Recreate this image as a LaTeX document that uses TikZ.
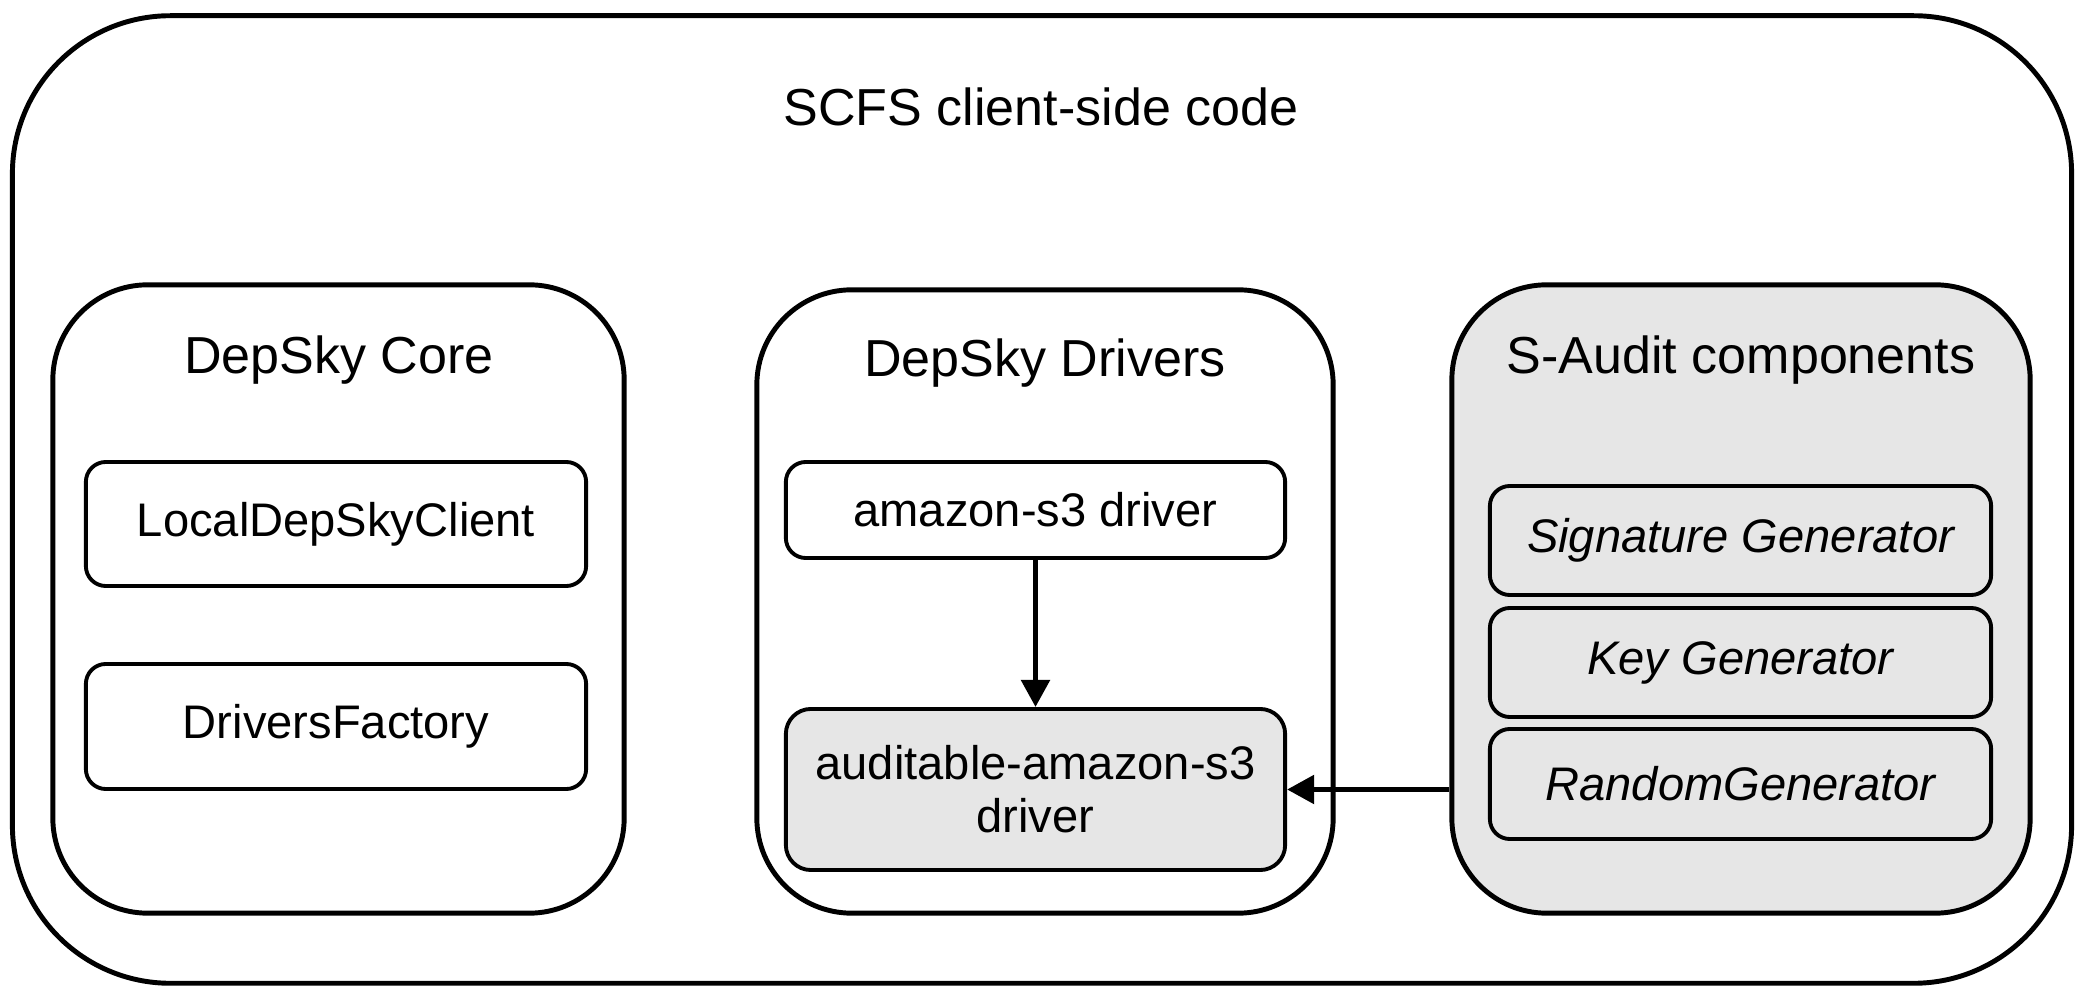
\documentclass[tikz,border=0pt]{standalone}
\usepackage{fontspec}
\setmainfont{Liberation Sans}
\usetikzlibrary{arrows.meta,positioning}
\definecolor{auditgray}{HTML}{E6E6E6}

\begin{document}
\begin{tikzpicture}[x=0.01cm,y=-0.01cm,every node/.style={inner sep=0pt},
  grp/.style={draw,line width=1.4pt,rounded corners=0.95cm},
  part/.style={draw,line width=1.1pt,rounded corners=0.2cm,minimum width=5cm,
    align=center,font=\fontsize{13.4}{15}\selectfont},
  head/.style={font=\fontsize{14.8}{17}\selectfont},
  arr/.style={line width=1.5pt,-{Triangle[width=0.28cm,length=0.27cm]}}]
\useasboundingbox (0,0) rectangle (2082,998);
\node[draw,line width=1.4pt,rounded corners=1.58cm,minimum width=20.58cm,minimum height=9.67cm] (scfs) at (1042,499.5) {};
\node[head] (scfstitle) at (1041,107) {SCFS client-side code};
% the three groups
\node[grp,minimum width=5.71cm,minimum height=6.28cm] (core) at (338.5,599) {};
\node[grp,minimum width=5.76cm,minimum height=6.23cm] (drivers) at (1045,601.5) {};
\node[grp,fill=auditgray,minimum width=5.78cm,minimum height=6.28cm] (saudit) at (1741,599) {};
\node[head] (coretitle) at (339,360) {DepSky Core};
\node[head] (driverstitle) at (1045,363) {DepSky Drivers};
\node[head] (saudittitle) at (1741,360) {S-Audit components};
% DepSky Core
\node[part,minimum height=1.24cm] (local) at (336,524) {LocalDepSkyClient};
\node[part,minimum height=1.25cm] (factory) at (336,726.5) {DriversFactory};
% DepSky Drivers
\node[part,minimum width=4.99cm,minimum height=0.96cm] (amazon) at (1035.5,510) {amazon-s3 driver};
\node[part,fill=auditgray,rounded corners=0.25cm,minimum width=4.99cm,minimum height=1.61cm] (auditable) at (1035.5,789.5) {auditable-amazon-s3\\driver};
% S-Audit components
\node[part,fill=auditgray,minimum width=5.01cm,minimum height=1.09cm,font=\fontsize{13.4}{15}\selectfont\itshape] (signature) at (1740.5,540.5) {Signature Generator};
\node[part,fill=auditgray,minimum width=5.01cm,minimum height=1.09cm,font=\fontsize{13.4}{15}\selectfont\itshape] (keygen) at (1740.5,662.5) {Key Generator};
\node[part,fill=auditgray,minimum width=5.01cm,minimum height=1.1cm,font=\fontsize{13.4}{15}\selectfont\itshape] (random) at (1740.5,784) {RandomGenerator};
\draw[arr] (amazon.south) -- (auditable.north);
\draw[arr] (saudit.west |- auditable.east) -- (auditable.east);
\end{tikzpicture}
\end{document}
